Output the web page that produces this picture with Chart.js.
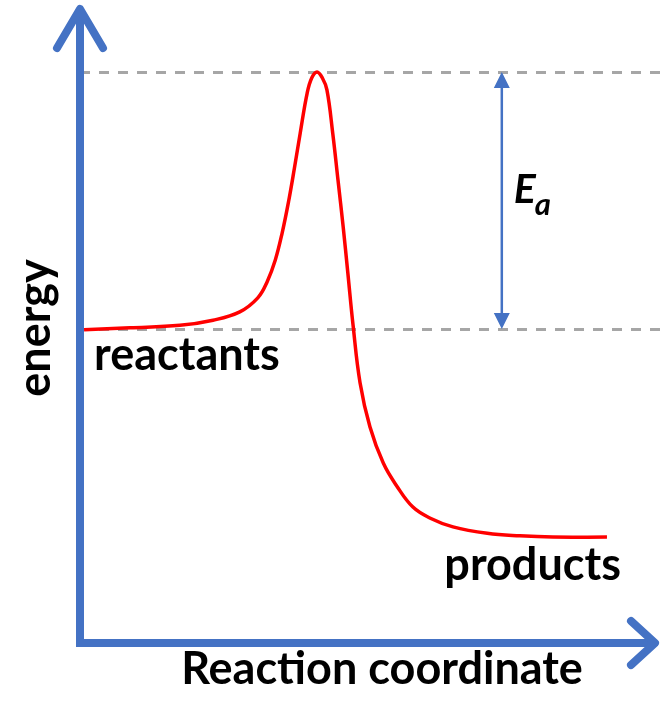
<!DOCTYPE html>
<html>
<head>
<meta charset="utf-8">
<script src="https://cdn.jsdelivr.net/npm/chart.js@4"></script>
<style>
  html, body { margin: 0; padding: 0; background: #fff; }
</style>
</head>
<body>
<canvas id="energyChart" width="661" height="703"></canvas>
<script>
// reaction profile
const reactionCoord = [0.7, 8.6, 17.2, 22.9, 27.5, 30.6, 32.2, 33.6, 34.8, 35.9, 36.9, 37.9, 39.1, 39.9, 40.8,
  41.7, 42.5, 43.5, 44.4, 45.3, 46.1, 47.0, 48.2, 49.9, 52.2, 54.6, 57.3, 60.2, 64.2, 70.1, 75.7, 81.4, 90.7];
const energy = [49.1, 49.4, 49.8, 50.6, 51.9, 54.1, 56.6, 60.0, 64.3, 69.2, 74.4, 79.9, 86.2, 88.6, 89.5,
  88.6, 86.7, 79.9, 72.6, 65.2, 58.0, 49.8, 40.8, 33.9, 28.2, 24.5, 21.3, 19.6, 18.2, 17.2, 16.8, 16.6, 16.6];

// reference levels
const reactantLevel = 49.2;
const peakLevel = 89.5;
const productLevel = 16.6;
const eaPosition = 72.6;

const labels = {
  xAxis: 'Reaction coordinate',
  yAxis: 'energy',
  reactants: 'reactants',
  products: 'products',
  ea: 'E',
  eaSub: 'a'
};

const blue = '#4472C4';
const grey = '#A6A6A6';
const fontFamily = 'Lato, "Open Sans", sans-serif';

const points = reactionCoord.map((x, i) => ({ x: x, y: energy[i] }));

// dashed guide lines under the curve
const guidePlugin = {
  id: 'guides',
  beforeDatasetsDraw(chart) {
    const { ctx, chartArea, scales } = chart;
    ctx.save();
    ctx.strokeStyle = grey;
    ctx.lineWidth = 3;
    ctx.setLineDash([10, 9]);
    [peakLevel, reactantLevel].forEach(level => {
      const y = Math.round(scales.y.getPixelForValue(level)) + 0.5;
      ctx.beginPath();
      ctx.moveTo(chartArea.left, y);
      ctx.lineTo(chart.width, y);
      ctx.stroke();
    });
    ctx.restore();
  }
};

// axes with arrows, Ea arrow and the labels
const decorPlugin = {
  id: 'decor',
  afterDraw(chart) {
    const { ctx, chartArea, scales } = chart;
    const left = chartArea.left;
    const bottom = chartArea.bottom;
    ctx.save();

    // axes
    ctx.strokeStyle = blue;
    ctx.lineWidth = 8;
    ctx.lineCap = 'butt';
    ctx.beginPath();
    ctx.moveTo(left, bottom + 4);
    ctx.lineTo(left, 10);
    ctx.moveTo(left - 4, bottom);
    ctx.lineTo(655, bottom);
    ctx.stroke();

    ctx.lineCap = 'round';
    ctx.lineJoin = 'round';
    ctx.beginPath();
    ctx.moveTo(left - 23, 48);
    ctx.lineTo(left, 9);
    ctx.lineTo(left + 23, 48);
    ctx.moveTo(631, bottom - 22);
    ctx.lineTo(655, bottom);
    ctx.lineTo(631, bottom + 22);
    ctx.stroke();

    // Ea double arrow
    const ax = scales.x.getPixelForValue(eaPosition);
    const yTop = scales.y.getPixelForValue(peakLevel);
    const yBot = scales.y.getPixelForValue(reactantLevel);
    ctx.lineWidth = 2.5;
    ctx.lineCap = 'butt';
    ctx.beginPath();
    ctx.moveTo(ax, yTop + 10);
    ctx.lineTo(ax, yBot - 10);
    ctx.stroke();
    ctx.fillStyle = blue;
    ctx.beginPath();
    ctx.moveTo(ax, yTop);
    ctx.lineTo(ax - 8, yTop + 16);
    ctx.lineTo(ax + 8, yTop + 16);
    ctx.closePath();
    ctx.moveTo(ax, yBot);
    ctx.lineTo(ax - 8, yBot - 16);
    ctx.lineTo(ax + 8, yBot - 16);
    ctx.closePath();
    ctx.fill();

    // text
    ctx.fillStyle = '#000';
    ctx.textBaseline = 'alphabetic';
    ctx.font = 'italic bold 41px ' + fontFamily;
    ctx.textAlign = 'left';
    ctx.fillText(labels.ea, ax + 12, 203);
    const eW = ctx.measureText(labels.ea).width;
    ctx.font = 'italic bold 31px ' + fontFamily;
    ctx.fillText(labels.eaSub, ax + 12 + eW - 1, 215);

    ctx.font = 'bold 45px ' + fontFamily;
    ctx.fillText(labels.reactants, left + 14, yBot + 41);
    ctx.textAlign = 'right';
    ctx.fillText(labels.products, 621, scales.y.getPixelForValue(productLevel) + 43);
    ctx.textAlign = 'center';
    ctx.fillText(labels.xAxis, 382, 684);

    ctx.translate(50, 328);
    ctx.rotate(-Math.PI / 2);
    ctx.fillText(labels.yAxis, 0, 0);
    ctx.restore();
  }
};

const config = {
  type: 'scatter',
  data: {
    datasets: [{
      data: points,
      showLine: true,
      borderColor: '#FF0000',
      borderWidth: 3.5,
      pointRadius: 0,
      tension: 0.4,
      fill: false
    }]
  },
  options: {
    responsive: false,
    animation: false,
    layout: { padding: { left: 80, right: 0, top: 5, bottom: 60 } },
    plugins: {
      legend: { display: false },
      tooltip: { enabled: false }
    },
    scales: {
      x: { type: 'linear', min: 0, max: 100, display: false },
      y: { min: 0, max: 100, display: false }
    }
  },
  plugins: [guidePlugin, decorPlugin]
};

new Chart(document.getElementById('energyChart'), config);
</script>
</body>
</html>
